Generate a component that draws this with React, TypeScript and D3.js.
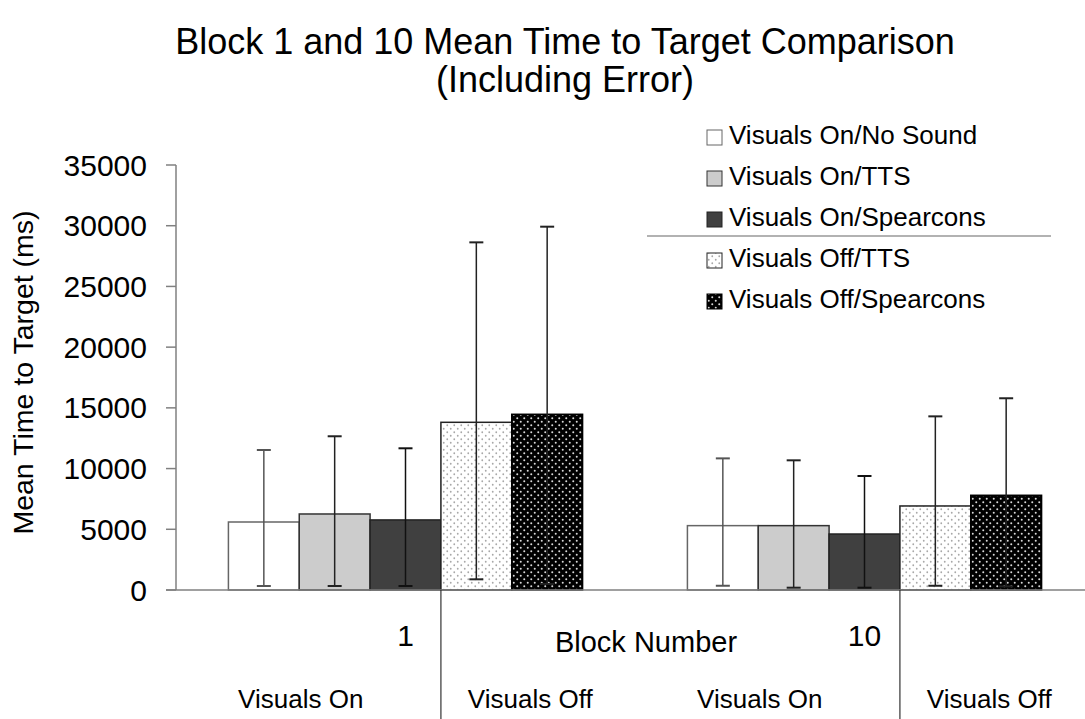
import * as d3 from "d3";
import { useEffect, useRef } from "react";

const blocks = ["1", "10"];
const conditions = [
  "Visuals On/No Sound",
  "Visuals On/TTS",
  "Visuals On/Spearcons",
  "Visuals Off/TTS",
  "Visuals Off/Spearcons",
];
const visualGroups = ["Visuals On", "Visuals Off"];

// means and error bar ends (ms), per block
const block1Means = [5600, 6260, 5770, 13810, 14470];
const block1Upper = [11530, 12660, 11670, 28630, 29920];
const block1Lower = [330, 330, 330, 880, 500];
const block10Means = [5300, 5300, 4610, 6920, 7800];
const block10Upper = [10840, 10680, 9390, 14300, 15790];
const block10Lower = [350, 190, 190, 350, 300];

const yTicks = [0, 5000, 10000, 15000, 20000, 25000, 30000, 35000];

const fills = ["#ffffff", "#cccccc", "#404040", "url(#dotLight)", "url(#dotDark)"];
const strokes = ["#666666", "#333333", "#222222", "#222222", "#000000"];
const errColors = ["#555555", "#222222", "#111111", "#222222", "#222222"];

const FONT = "'Liberation Sans', Arial, sans-serif";
const W = 1085;
const H = 719;

const App = () => {
  const ref = useRef(null);

  useEffect(() => {
    const root = d3.select(ref.current);
    root.selectAll("*").remove();
    const svg = root
      .append("svg")
      .attr("width", W)
      .attr("height", H)
      .attr("style", "background: white; display: block");

    const defs = svg.append("defs");
    const p1 = defs
      .append("pattern")
      .attr("id", "dotLight")
      .attr("patternUnits", "userSpaceOnUse")
      .attr("width", 7)
      .attr("height", 7);
    p1.append("rect").attr("width", 7).attr("height", 7).attr("fill", "#fff");
    p1.append("circle").attr("cx", 1.75).attr("cy", 1.75).attr("r", 0.9).attr("fill", "#a8a8a8");
    p1.append("circle").attr("cx", 5.25).attr("cy", 5.25).attr("r", 0.9).attr("fill", "#a8a8a8");
    const p2 = defs
      .append("pattern")
      .attr("id", "dotDark")
      .attr("patternUnits", "userSpaceOnUse")
      .attr("width", 7)
      .attr("height", 7);
    p2.append("rect").attr("width", 7).attr("height", 7).attr("fill", "#000");
    p2.append("circle").attr("cx", 1.75).attr("cy", 1.75).attr("r", 1).attr("fill", "#d8d8d8");
    p2.append("circle").attr("cx", 5.25).attr("cy", 5.25).attr("r", 1).attr("fill", "#d8d8d8");

    const left = 176;
    const right = 1094;
    const top = 165;
    const bottom = 590;

    const y = d3.scaleLinear().domain([0, 35000]).range([bottom, top]);
    const x0 = d3.scaleBand().domain(blocks).range([left, right]);
    const x1 = d3
      .scaleBand()
      .domain(conditions)
      .range([0, x0.bandwidth()])
      .paddingOuter(0.74);
    const subKeys = blocks.flatMap((b) => visualGroups.map((v) => b + "|" + v));
    const xSub = d3.scaleBand().domain(subKeys).range([left, right]);

    // title
    const title = svg
      .append("text")
      .attr("text-anchor", "middle")
      .attr("font-family", FONT)
      .attr("font-size", 36)
      .attr("fill", "#000");
    title.append("tspan").attr("x", 565).attr("y", 54).text("Block 1 and 10 Mean Time to Target Comparison");
    title.append("tspan").attr("x", 565).attr("y", 92).text("(Including Error)");

    // y axis
    svg
      .append("line")
      .attr("x1", left)
      .attr("x2", left)
      .attr("y1", top)
      .attr("y2", bottom)
      .attr("stroke", "#808080")
      .attr("stroke-width", 1.5);
    const yt = svg.append("g").selectAll("g").data(yTicks).enter().append("g");
    yt.append("line")
      .attr("x1", left - 10)
      .attr("x2", left)
      .attr("y1", (d) => y(d))
      .attr("y2", (d) => y(d))
      .attr("stroke", "#808080")
      .attr("stroke-width", 1.5);
    yt.append("text")
      .attr("x", 147)
      .attr("y", (d) => y(d))
      .attr("dy", "0.35em")
      .attr("text-anchor", "end")
      .attr("font-family", FONT)
      .attr("font-size", 30)
      .text((d) => d);

    svg
      .append("text")
      .attr("transform", `translate(33,${(top + bottom) / 2 - 5}) rotate(-90)`)
      .attr("text-anchor", "middle")
      .attr("font-family", FONT)
      .attr("font-size", 28.5)
      .text("Mean Time to Target (ms)");

    // bars
    const blockData = [
      { block: "1", means: block1Means, upper: block1Upper, lower: block1Lower },
      { block: "10", means: block10Means, upper: block10Upper, lower: block10Lower },
    ];
    blockData.forEach((bd) => {
      const g = svg.append("g").attr("transform", `translate(${x0(bd.block)},0)`);
      const items = conditions.map((c, i) => ({
        c,
        i,
        v: bd.means[i],
        hi: bd.upper[i],
        lo: bd.lower[i],
      }));
      g.selectAll("rect")
        .data(items)
        .enter()
        .append("rect")
        .attr("x", (d) => x1(d.c))
        .attr("y", (d) => y(d.v))
        .attr("width", x1.bandwidth())
        .attr("height", (d) => y(0) - y(d.v))
        .attr("fill", (d) => fills[d.i])
        .attr("stroke", (d) => strokes[d.i])
        .attr("stroke-width", 1.5);

      const eb = g.selectAll("g.err").data(items).enter().append("g").attr("class", "err");
      const cx = (d) => x1(d.c) + x1.bandwidth() / 2;
      eb.append("line")
        .attr("x1", cx)
        .attr("x2", cx)
        .attr("y1", (d) => y(d.hi))
        .attr("y2", (d) => y(d.lo))
        .attr("stroke", (d) => errColors[d.i])
        .attr("stroke-width", 1.5);
      [(d) => d.hi, (d) => d.lo].forEach((fn) => {
        eb.append("line")
          .attr("x1", (d) => cx(d) - 7)
          .attr("x2", (d) => cx(d) + 7)
          .attr("y1", (d) => y(fn(d)))
          .attr("y2", (d) => y(fn(d)))
          .attr("stroke", (d) => errColors[d.i])
          .attr("stroke-width", 2);
      });
    });

    // x axis
    svg
      .append("line")
      .attr("x1", left - 10)
      .attr("x2", W)
      .attr("y1", bottom)
      .attr("y2", bottom)
      .attr("stroke", "#808080")
      .attr("stroke-width", 1.5);

    // separators between visuals on / off
    blocks.forEach((b) => {
      const sx = x0(b) + x1(conditions[3]);
      svg
        .append("line")
        .attr("x1", sx)
        .attr("x2", sx)
        .attr("y1", bottom)
        .attr("y2", H)
        .attr("stroke", "#333")
        .attr("stroke-width", 1.2);
    });

    svg
      .append("g")
      .selectAll("text")
      .data(blocks)
      .enter()
      .append("text")
      .attr("x", (d) => x0(d) + x0.bandwidth() / 2)
      .attr("y", 646)
      .attr("text-anchor", "middle")
      .attr("font-family", FONT)
      .attr("font-size", 30)
      .text((d) => d);

    svg
      .append("g")
      .selectAll("text")
      .data(subKeys)
      .enter()
      .append("text")
      .attr("x", (d) => xSub(d) + xSub.bandwidth() / 2 + 10)
      .attr("y", 708)
      .attr("text-anchor", "middle")
      .attr("font-family", FONT)
      .attr("font-size", 26)
      .text((d) => d.split("|")[1]);

    svg
      .append("text")
      .attr("x", (left + right) / 2 + 11)
      .attr("y", 652)
      .attr("text-anchor", "middle")
      .attr("font-family", FONT)
      .attr("font-size", 29)
      .text("Block Number");

    // legend
    const leg = svg
      .append("g")
      .selectAll("g")
      .data(conditions)
      .enter()
      .append("g")
      .attr("transform", (d, i) => `translate(707,${135 + i * 41})`);
    leg.append("rect")
      .attr("x", 0)
      .attr("y", -5)
      .attr("width", 15)
      .attr("height", 15)
      .attr("fill", (d, i) => fills[i])
      .attr("stroke", (d, i) => strokes[i])
      .attr("stroke-width", 1);
    leg.append("text")
      .attr("x", 22)
      .attr("y", 9)
      .attr("font-family", FONT)
      .attr("font-size", 26)
      .text((d) => d);
    svg
      .append("line")
      .attr("x1", 647)
      .attr("x2", 1051)
      .attr("y1", 236)
      .attr("y2", 236)
      .attr("stroke", "#999")
      .attr("stroke-width", 1.5);
  }, []);

  return <div ref={ref} style={{ position: "absolute", left: 0, top: 0 }}></div>;
};

export default App;
